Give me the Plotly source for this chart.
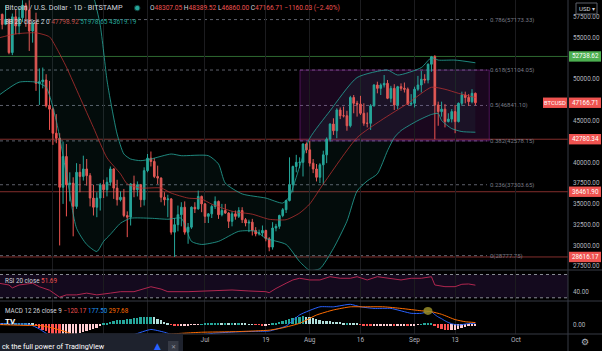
import pandas as pd
import plotly.graph_objects as go

# ---------------- data ----------------
START = pd.Timestamp("2021-05-01")

open_may = [57700, 57800, 56600, 57200, 53200, 57500, 56400, 57400, 58900, 58300, 55800, 56700, 49500, 49700, 49900, 46800,
            46400, 43500, 42900, 37000, 40700, 37300, 37500, 34700, 38800, 38300, 39200, 38400, 35700, 34600, 35700]
high_may = [58400, 57900, 58900, 57300, 57900, 58400, 58600, 59500, 59200, 59500, 56900, 58000, 51300, 51400, 50600, 49800,
            46600, 45800, 43500, 42500, 42200, 38800, 38200, 39900, 39800, 40800, 40400, 38700, 37300, 36400, 37500]
low_may = [57000, 56000, 56500, 53000, 52900, 55400, 55400, 56900, 56300, 53400, 54400, 48600, 46900, 48900, 46600, 43900,
           42100, 42300, 30000, 35000, 33500, 35300, 31100, 34400, 36400, 37800, 37200, 34700, 33600, 33400, 34200]
close_may = [57800, 56600, 57200, 53200, 57500, 56400, 57400, 58900, 58300, 55800, 56700, 49500, 49700, 49900, 46800, 46400,
             43500, 42900, 37000, 40700, 37300, 37500, 34700, 38800, 38300, 39200, 38400, 35700, 34600, 35700, 37300]

open_jun = [37300, 36700, 37600, 39200, 36900, 35500, 35800, 33600, 33400, 37400, 36700, 37300, 35500, 39000, 40500,
            40100, 38300, 38100, 35800, 35500, 35600, 31600, 32500, 33700, 34600, 31600, 32200, 34600, 34400, 35900]
high_jun = [37900, 38200, 39500, 39300, 37900, 36500, 36800, 34100, 37500, 38400, 37700, 37400, 39400, 41000, 41300,
            40500, 39600, 38200, 36400, 36100, 35700, 33300, 34800, 35200, 35300, 32700, 34700, 35200, 36600, 36000]
low_jun = [35700, 35900, 37200, 35600, 34800, 35300, 33400, 31000, 32400, 35800, 35900, 34600, 34800, 38800, 39500,
           38100, 37400, 35200, 34800, 33400, 31300, 28616, 31700, 32300, 31300, 30200, 32000, 33900, 34300, 34000]
close_jun = [36700, 37600, 39200, 36900, 35500, 35800, 33600, 33400, 37400, 36700, 37300, 35500, 39000, 40500, 40100,
             38300, 38100, 35800, 35500, 35600, 31600, 32500, 33700, 34600, 31600, 32200, 34600, 34400, 35900, 35000]

open_jul = [35000, 33500, 33800, 34700, 35300, 33700, 34200, 33900, 32900, 33800, 33500, 34200, 33100, 32700, 32800, 31800,
            31400, 31500, 31800, 30800, 29800, 32100, 32300, 33600, 34300, 35400, 37300, 39500, 40000, 40000, 42200]
high_jul = [35100, 33900, 34900, 35900, 35400, 35000, 35000, 34000, 34100, 34200, 34600, 34600, 33300, 33100, 33200, 32200,
            31900, 32400, 31900, 31000, 32800, 32600, 33700, 34500, 35500, 40600, 39600, 40900, 40600, 42300, 42400]
low_jul = [32700, 32700, 33300, 34400, 33200, 33500, 33800, 32100, 32300, 33100, 33300, 32700, 32300, 31600, 31200, 31100,
           31200, 31100, 30500, 29300, 29500, 31700, 32000, 33400, 33900, 35300, 36400, 38800, 39300, 38300, 41100]
close_jul = [33500, 33800, 34700, 35300, 33700, 34200, 33900, 32900, 33800, 33500, 34200, 33100, 32700, 32800, 31800, 31400,
             31500, 31800, 30800, 29800, 32100, 32300, 33600, 34300, 35400, 37300, 39500, 40000, 40000, 42200, 41500]

open_aug = [41500, 39900, 39200, 38200, 39700, 40900, 42800, 44600, 43800, 46300, 45600, 45600, 44400, 47800, 47100, 47000,
            45900, 44700, 44700, 46800, 49300, 48900, 49300, 49500, 47700, 48900, 46900, 49100, 48900, 48800, 47000]
high_aug = [42600, 40400, 39800, 39900, 41400, 43000, 44700, 45300, 46500, 46600, 46700, 46200, 48000, 48100, 47400, 48000,
            47100, 46000, 47000, 49400, 49700, 49500, 50500, 49900, 49200, 49400, 49200, 49500, 49600, 49000, 48200]
low_aug = [39500, 38700, 37700, 37500, 37300, 39900, 42500, 43300, 42900, 45200, 45400, 43800, 44200, 45900, 45500, 45700,
           44400, 44200, 43900, 46700, 48300, 48100, 49000, 47600, 47200, 46300, 46400, 48600, 48400, 46900, 46800]
close_aug = [39900, 39200, 38200, 39700, 40900, 42800, 44600, 43800, 46300, 45600, 45600, 44400, 47800, 47100, 47000, 45900,
             44700, 44700, 46800, 49300, 48900, 49300, 49500, 47700, 48900, 46900, 49100, 48900, 48800, 47000, 47100]

open_sep = [47100, 48800, 49300, 50000, 49900, 51800, 52700, 46900, 46100, 46400, 44900, 45200, 46100, 44900, 47100,
            48100, 47800, 47300, 48307.05]
high_sep = [49100, 50400, 51000, 50600, 51900, 52800, 52900, 47300, 47300, 47000, 45900, 46400, 46900, 47200, 48500,
            48500, 48200, 48800, 48389.52]
low_sep = [46600, 48600, 48400, 49500, 49500, 50900, 42780.34, 44400, 45500, 44200, 44800, 44800, 43500, 44800, 46800,
           47100, 46800, 47100, 46860.00]
close_sep = [48800, 49300, 50000, 49900, 51800, 52700, 46900, 46100, 46400, 44900, 45200, 46100, 44900, 47100, 48100,
             47800, 47300, 48300, 47166.71]

opens = open_may + open_jun + open_jul + open_aug + open_sep
highs = high_may + high_jun + high_jul + high_aug + high_sep
lows = low_may + low_jun + low_jul + low_aug + low_sep
closes = close_may + close_jun + close_jul + close_aug + close_sep

# Bollinger bands (20, 2): (day index from May 1, price)
bb_upper_day = [0, 10, 14, 18, 22, 26, 28, 30, 32, 33, 35, 37, 39, 42, 45, 51, 54, 62, 65, 67, 72, 79, 84, 86, 89, 92,
                98, 106, 115, 118, 125, 128, 130, 135, 141]
bb_upper = [62000, 61500, 62500, 64000, 64500, 62000, 60000, 56500, 49900, 47500, 43400, 41000, 40400, 40200, 40400,
            41000, 40800, 40800, 39800, 37500, 36200, 35700, 35100, 35900, 39500, 42900, 46200, 50200, 51100, 50500,
            51400, 52600, 52300, 52300, 51978.65]
bb_basis_day = [0, 5, 11, 15, 17, 20, 24, 28, 32, 36, 38, 42, 48, 51, 56, 60, 63, 69, 75, 80, 85, 89, 92, 96, 106, 113,
                121, 128, 132, 136, 141]
bb_basis = [54970, 55450, 55575, 55090, 53800, 51455, 47820, 44180, 40545, 38610, 37400, 36910, 36910, 36300, 35700,
            35575, 34970, 34120, 33760, 33150, 33100, 33900, 35000, 37390, 42970, 45030, 47090, 49030, 48790, 48300,
            47798.92]
bb_lower_day = [0, 6, 11, 14, 17, 20, 23, 26, 29, 31, 33, 36, 39, 45, 50, 54, 57, 60, 65, 71, 76, 79, 85, 89, 92, 95,
                99, 103, 106, 109, 112, 115, 117, 119, 124, 128, 130, 131, 134, 137, 141]
bb_lower = [48060, 49640, 49640, 49030, 45000, 38610, 32060, 30120, 29270, 30490, 31330, 32670, 33270, 33270, 33150,
            33270, 30490, 30120, 30490, 31700, 31700, 30850, 30120, 28060, 27000, 27200, 29640, 32910, 36550, 37760,
            38610, 41390, 42970, 43820, 45030, 45760, 45880, 45030, 44060, 43700, 43619.19]

# RSI(20)
rsi_day = [0, 3, 4, 6, 10, 12, 15, 17, 18, 20, 23, 26, 29, 33, 36, 40, 43, 45, 48, 50, 56, 60, 65, 69, 74, 79, 80, 82,
           85, 87, 89, 92, 95, 98, 101, 104, 106, 109, 112, 115, 119, 122, 125, 128, 129, 132, 135, 137, 139, 141]
rsi_val = [55, 52, 47, 52, 55, 49, 43, 36, 31, 35, 35, 38, 35, 38, 40.5, 40.5, 46, 49, 45, 40.5, 40.5, 41.7, 43.4, 43.4,
           41.7, 40.5, 38.8, 46, 55, 60.6, 63.5, 60.6, 60.6, 66.2, 63.5, 63.5, 66.2, 60.6, 66.2, 63.5, 60.6, 63.5, 63.5,
           66.2, 52, 49.1, 49.1, 53.2, 53.7, 51.69]

# MACD(12, 26, 9)
macd_day = [0, 5, 9, 12, 15, 20, 25, 30, 35, 40, 45, 49, 52, 58, 64, 70, 76, 80, 82, 85, 89, 95, 99, 104, 107, 111,
            116, 122, 125, 127, 128, 129, 130, 131, 132, 133, 134, 135, 136, 137, 139, 141]
macd_val = [100, 50, 0, -800, -1900, -3200, -3850, -3650, -2650, -1750, -880, -1350, -1900, -1900, -1500, -1300, -1200,
            -1150, -850, -300, 1600, 2970, 2970, 3400, 2970, 2700, 2700, 1870, 1870, 2140, 2140, 1650, 1250, 950, 600,
            300, 100, -50, -120, -50, 120, 177.50]
signal_day = [0, 9, 12, 15, 20, 25, 30, 35, 40, 45, 50, 55, 60, 65, 70, 75, 80, 84, 89, 94, 99, 104, 108, 114, 119, 125,
              128, 131, 135, 138, 141]
signal_val = [-50, -200, -200, -500, -1300, -2500, -3300, -3300, -2800, -2200, -1700, -1500, -1350, -1300, -1250, -1150,
              -1000, -600, 170, 1580, 2440, 2970, 2970, 2970, 2700, 2300, 2140, 1700, 800, 440, 297.68]
hist_val = ([150, 100, 120, 50, 150, 150, 200, 280, 300, 200, 150]
            + [-300, -600, -900, -1200, -1400, -1600, -1800, -2000, -2000, -1900]
            + [-1800, -1700, -1600, -1500, -1350, -1200, -1000, -800, -600, -350]
            + [100, 250, 400, 550, 650, 700, 750, 850, 950, 1050, 1150, 1200, 1250, 1300, 1320]
            + [1200, 950, 700, 450, 200]
            + [-100, -250, -300, -250, -200, -150, -100, -100, -50]
            + [50, 100, 150, 200, 250, 250, 200, 200, 150, 150, 100, 100, 80, 60, 40, 20]
            + [-50, -100, -150, -150, -100]
            + [100, 250, 400, 550, 700, 900, 1100, 1200, 1300, 1350]
            + [1300, 1200, 1000, 850, 700, 600, 550, 500, 450, 400, 350, 300, 300, 250, 200, 150]
            + [-100, -150, -200, -250, -250, -250, -200, -200, -150, -150, -200, -200, -150, -150, -200, -200, -150, -100]
            + [50, 100, 100, 150]
            + [-300, -600, -800, -900, -1000, -1000]
            + [-950, -800, -650, -500, -350, -200, -120.17])

fib_levels = [0.786, 0.618, 0.5, 0.382, 0.236, 0.0]
fib_prices = [57173.33, 51104.05, 46841.10, 42578.15, 37303.65, 28777.75]
hline_prices = [52738.62, 42780.34, 36461.90, 28616.17]
hline_colors = ["green", "red", "red", "red"]
last_price = 47166.71

grid_dates = ["2021-05-17", "2021-06-01", "2021-06-14", "2021-07-01", "2021-07-19", "2021-08-01", "2021-08-16",
              "2021-09-01", "2021-09-13", "2021-10-01"]
grid_labels = ["17", "Jun", "14", "Jul", "19", "Aug", "16", "Sep", "13", "Oct"]
# price-scale ticks that are not hidden under the coloured price tags
price_ticks = [27500, 30000, 32500, 35000, 37500, 40000, 45000, 50000, 55000, 57500]

# ---------------- layout helpers ----------------
W, H = 602, 351
PH = 334          # plot-area height in px (bottom margin 17)
AXX = 568         # x px of the price axis


def px(x):
    return x / W


def py(y):
    return 1 - y / PH


def day(d):
    return START + pd.to_timedelta(d, unit="D")


dates = pd.date_range(START, periods=len(closes), freq="D")
FONT = "Roboto"
TXT = "#b2b5be"
UP, DN = "#26a69a", "#ef5350"

fig = go.Figure()

# Bollinger bands
fig.add_trace(go.Scatter(x=[day(d) for d in bb_upper_day], y=bb_upper, mode="lines",
                         line=dict(color="rgba(38,166,154,0.8)", width=1, shape="spline", smoothing=0.6),
                         xaxis="x2", yaxis="y", hoverinfo="skip"))
fig.add_trace(go.Scatter(x=[day(d) for d in bb_lower_day], y=bb_lower, mode="lines",
                         line=dict(color="rgba(38,166,154,0.8)", width=1, shape="spline", smoothing=0.6),
                         fill="tonexty", fillcolor="rgba(38,166,154,0.07)",
                         xaxis="x2", yaxis="y", hoverinfo="skip"))
fig.add_trace(go.Scatter(x=[day(d) for d in bb_basis_day], y=bb_basis, mode="lines",
                         line=dict(color="rgba(190,50,50,0.75)", width=1, shape="spline", smoothing=0.6),
                         xaxis="x2", yaxis="y", hoverinfo="skip"))

# candles
fig.add_trace(go.Candlestick(x=dates, open=opens, high=highs, low=lows, close=closes,
                             increasing=dict(line=dict(color=UP, width=1), fillcolor=UP),
                             decreasing=dict(line=dict(color=DN, width=1), fillcolor=DN),
                             whiskerwidth=0, xaxis="x2", yaxis="y", hoverinfo="skip"))

# RSI
fig.add_trace(go.Scatter(x=[day(d) for d in rsi_day], y=rsi_val, mode="lines",
                         line=dict(color="#b0264f", width=1), xaxis="x3", yaxis="y2", hoverinfo="skip"))

# MACD
hist_colors = []
for i, h in enumerate(hist_val):
    prev = hist_val[i - 1] if i > 0 else h
    if h >= 0:
        hist_colors.append("#26a69a" if h >= prev else "#b2dfdb")
    else:
        hist_colors.append("#ffcdd2" if h >= prev else "#ff5252")
fig.add_trace(go.Bar(x=dates, y=hist_val, marker=dict(color=hist_colors, line=dict(width=0)),
                     width=0.55 * 86400000, xaxis="x", yaxis="y3", hoverinfo="skip"))
fig.add_trace(go.Scatter(x=[day(d) for d in macd_day], y=macd_val, mode="lines",
                         line=dict(color="#2962ff", width=1, shape="spline", smoothing=0.5),
                         xaxis="x", yaxis="y3", hoverinfo="skip"))
fig.add_trace(go.Scatter(x=[day(d) for d in signal_day], y=signal_val, mode="lines",
                         line=dict(color="#ff6d00", width=1, shape="spline", smoothing=0.5),
                         xaxis="x", yaxis="y3", hoverinfo="skip"))

shapes = []
annotations = []

# rectangle drawing
shapes.append(dict(type="rect", xref="x2", yref="y", x0=day(89.1), x1=day(145.1), y0=42578.15, y1=51104.05,
                   fillcolor="rgba(156,39,176,0.17)", line=dict(color="rgba(156,39,176,0.45)", width=1),
                   layer="below"))

# fib lines + labels
for lv, pr in zip(fib_levels, fib_prices):
    shapes.append(dict(type="line", xref="paper", yref="y", x0=0, x1=px(487), y0=pr, y1=pr,
                       line=dict(color="#5d606b", width=1, dash="3px,3px"), layer="below"))
    lbl = ("0" if lv == 0 else f"{lv:g}") + f"({pr:.2f})"
    annotations.append(dict(xref="paper", yref="y", x=px(488), y=pr, text=lbl, showarrow=False,
                            xanchor="left", yanchor="middle", font=dict(family=FONT, size=6, color="#787b86")))

# horizontal level lines
for pr, c in zip(hline_prices, hline_colors):
    col = "rgba(76,175,80,0.6)" if c == "green" else "rgba(239,83,80,0.55)"
    shapes.append(dict(type="line", xref="paper", yref="y", x0=0, x1=px(AXX), y0=pr, y1=pr,
                       line=dict(color=col, width=1), layer="below"))

# RSI band
shapes.append(dict(type="rect", xref="paper", yref="y2", x0=0, x1=px(AXX), y0=30, y1=70,
                   fillcolor="#140a1e", line=dict(width=0), layer="below"))
for v in (30, 70):
    shapes.append(dict(type="line", xref="paper", yref="y2", x0=0, x1=px(AXX), y0=v, y1=v,
                       line=dict(color="#8a8d96", width=1, dash="dot"), layer="below"))

# highlight ellipse in MACD pane
shapes.append(dict(type="circle", xref="x", yref="y3", x0=day(125.6), x1=day(128.3), y0=1600, y1=2950,
                   fillcolor="rgba(150,140,40,0.85)", line=dict(width=0), layer="above"))

# pane separators / axis borders
for yy in (270, 301, 334):
    shapes.append(dict(type="line", xref="paper", yref="paper", x0=0, x1=1, y0=py(yy), y1=py(yy),
                       line=dict(color="#363a45", width=1), layer="above"))
shapes.append(dict(type="line", xref="paper", yref="paper", x0=px(AXX), x1=px(AXX), y0=py(351), y1=1,
                   line=dict(color="#363a45", width=1), layer="above"))

# price labels on the axis
box_h = 5.2 * 120.3
for pr, c in zip(hline_prices + [last_price], hline_colors + ["red"]):
    bg = "#4caf50" if c == "green" else "#ef5350"
    shapes.append(dict(type="rect", xref="paper", yref="y", x0=px(569), x1=px(601), y0=pr - box_h, y1=pr + box_h,
                       fillcolor=bg, line=dict(width=0), layer="above"))
    annotations.append(dict(xref="paper", yref="y", x=px(585), y=pr, text=f"{pr:.2f}", showarrow=False,
                            xanchor="center", yanchor="middle", font=dict(family=FONT, size=6.3, color="white")))
shapes.append(dict(type="rect", xref="paper", yref="y", x0=px(543), x1=px(567), y0=last_price - box_h,
                   y1=last_price + box_h, fillcolor="#ef5350", line=dict(width=0), layer="above"))
annotations.append(dict(xref="paper", yref="y", x=px(555), y=last_price, text="BTCUSD", showarrow=False,
                        xanchor="center", yanchor="middle", font=dict(family=FONT, size=5.8, color="white")))

# USD button
shapes.append(dict(type="rect", xref="paper", yref="paper", x0=px(576), x1=px(597), y0=py(14), y1=py(3),
                   fillcolor="#000000", line=dict(color="#5d606b", width=1), layer="above"))
annotations.append(dict(xref="paper", yref="paper", x=px(586.5), y=py(8.5), text="USD ▾", showarrow=False,
                        xanchor="center", yanchor="middle", font=dict(family=FONT, size=6, color="#d1d4dc")))

# header legend
R = "#ef5350"
annotations.append(dict(xref="paper", yref="paper", x=px(3), y=py(8), xanchor="left", yanchor="middle",
                        showarrow=False, text="Bitcoin / U.S. Dollar · 1D · BITSTAMP",
                        font=dict(family=FONT, size=7.3, color="#d1d4dc")))
shapes.append(dict(type="circle", xref="paper", yref="paper", x0=px(134.5), x1=px(140), y0=py(10.8), y1=py(5.3),
                   fillcolor="#26a69a", line=dict(color="#0d3b37", width=1), layer="above"))
ohlc = (f"O<span style='color:{R}'>48307.05</span> H<span style='color:{R}'>48389.52</span> "
        f"L<span style='color:{R}'>46860.00</span> C<span style='color:{R}'>47166.71</span> "
        f"<span style='color:{R}'>−1160.03 (−2.40%)</span>")
annotations.append(dict(xref="paper", yref="paper", x=px(148), y=py(8), xanchor="left", yanchor="middle",
                        showarrow=False, text=ohlc, font=dict(family=FONT, size=6.6, color="#d1d4dc")))
bb_txt = ("BB 20 close 2 0 <span style='color:#c0504a'>47798.92</span> "
          "<span style='color:#26a69a'>51978.65</span> <span style='color:#26a69a'>43619.19</span>")
annotations.append(dict(xref="paper", yref="paper", x=px(3), y=py(22), xanchor="left", yanchor="middle",
                        showarrow=False, text=bb_txt, font=dict(family=FONT, size=6.5, color="#d1d4dc")))
annotations.append(dict(xref="paper", yref="paper", x=px(3), y=py(280.5), xanchor="left", yanchor="middle",
                        showarrow=False, text=f"RSI 20 close <span style='color:{R}'>51.69</span>",
                        font=dict(family=FONT, size=6.3, color="#d1d4dc")))
macd_txt = (f"MACD 12 26 close 9 <span style='color:{R}'>−120.17</span> "
            "<span style='color:#2196f3'>177.50</span> <span style='color:#ff6d00'>297.68</span>")
annotations.append(dict(xref="paper", yref="paper", x=px(3), y=py(310.5), xanchor="left", yanchor="middle",
                        showarrow=False, text=macd_txt, font=dict(family=FONT, size=6.3, color="#d1d4dc")))
annotations.append(dict(xref="paper", yref="paper", x=px(10), y=py(321), xanchor="center", yanchor="middle",
                        showarrow=False, text="<b>TV</b>", font=dict(family=FONT, size=8, color="white")))

# bottom banner
shapes.append(dict(type="rect", xref="paper", yref="paper", x0=px(-6), x1=px(183), y0=py(355), y1=py(333.5),
                   fillcolor="#1e222d", line=dict(width=0), layer="above"))
annotations.append(dict(xref="paper", yref="paper", x=px(0), y=py(346.5), xanchor="left", yanchor="middle",
                        showarrow=False, text="ck the full power of TradingView",
                        font=dict(family=FONT, size=7.2, color="#ffffff")))
annotations.append(dict(xref="paper", yref="paper", x=px(157), y=py(345.5), xanchor="center", yanchor="middle",
                        showarrow=False, text="▲", font=dict(family="DejaVu Sans", size=9, color="#2962ff")))
shapes.append(dict(type="rect", xref="paper", yref="paper", x0=px(168), x1=px(178.5), y0=py(352), y1=py(341),
                   fillcolor="#363a45", line=dict(width=0), layer="above"))
annotations.append(dict(xref="paper", yref="paper", x=px(173.3), y=py(346.5), xanchor="center", yanchor="middle",
                        showarrow=False, text="✕", font=dict(family="DejaVu Sans", size=6, color="#9598a1")))
annotations.append(dict(xref="paper", yref="paper", x=px(585), y=py(342), xanchor="center", yanchor="middle",
                        showarrow=False, text="⚙", font=dict(family="DejaVu Sans", size=9, color="#b2b5be")))

xr = [day(0.35), day(168.4)]
xdom = [0, px(AXX)]
xcommon = dict(domain=xdom, range=xr, type="date", showgrid=True, gridcolor="#1c1c1f", gridwidth=1,
               zeroline=False, showline=False, tickmode="array", tickvals=grid_dates, ticks="")
ycommon = dict(side="right", showgrid=False, zeroline=False, showline=False, ticks="", automargin=False,
               tickfont=dict(family=FONT, size=6.3, color=TXT), ticklabelstandoff=4)

fig.update_layout(
    width=W, height=H, margin=dict(l=0, r=0, t=0, b=H - PH),
    paper_bgcolor="#000000", plot_bgcolor="#000000", showlegend=False, bargap=0,
    font=dict(family=FONT, color=TXT),
    xaxis=dict(**xcommon, anchor="y3", ticktext=grid_labels, showticklabels=True,
               tickfont=dict(family=FONT, size=6.5, color=TXT)),
    xaxis2=dict(**xcommon, anchor="y", matches="x", showticklabels=False, rangeslider=dict(visible=False)),
    xaxis3=dict(**xcommon, anchor="y2", matches="x", showticklabels=False),
    yaxis=dict(**ycommon, anchor="x2", domain=[py(270), 1], range=[27047, 59528], tickmode="array",
               tickvals=price_ticks, ticktext=[f"{v:.2f}" for v in price_ticks]),
    yaxis2=dict(**ycommon, anchor="x3", domain=[py(301), py(270)], range=[24.5, 77.7], tickmode="array",
                tickvals=[40], ticktext=["40.00"]),
    yaxis3=dict(**ycommon, anchor="x", domain=[0, py(301)], range=[-1649, 3961], tickmode="array",
                tickvals=[0], ticktext=["0.00"]),
    shapes=shapes, annotations=annotations,
)

fig.write_html("out.html")
